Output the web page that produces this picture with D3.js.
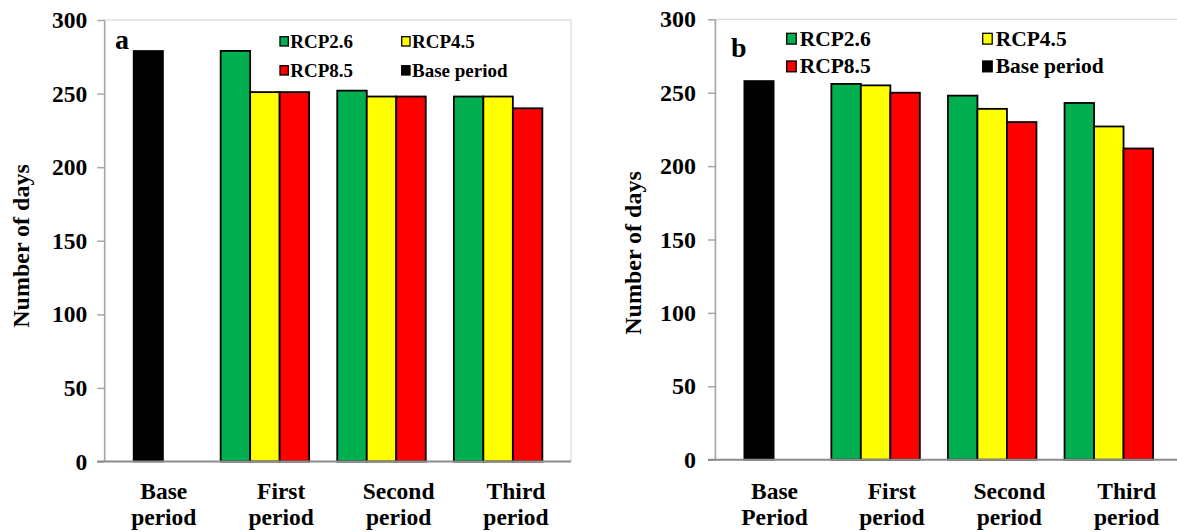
<!DOCTYPE html>
<html>
<head>
<meta charset="utf-8">
<script src="https://cdn.jsdelivr.net/npm/d3@7/dist/d3.min.js"></script>
<style>
  body { margin: 0; background: #fff; }
  svg { display: block; }
</style>
</head>
<body>
<svg id="chart" width="1177" height="532"></svg>
<script>
// ---------------- data ----------------
const categories = ["Base period", "First period", "Second period", "Third period"];
const futureCategories = ["First period", "Second period", "Third period"];
const labelsA = [["Base", "period"], ["First", "period"], ["Second", "period"], ["Third", "period"]];
const labelsB = [["Base", "Period"], ["First", "period"], ["Second", "period"], ["Third", "period"]];
const seriesNames = ["RCP2.6", "RCP4.5", "RCP8.5", "Base period"];
const seriesColors = ["#00b050", "#ffff00", "#ff0000", "#000000"];
const yTicks = [0, 50, 100, 150, 200, 250, 300];

const basePeriodA = 279;
const rcp26A = [279, 252, 248];
const rcp45A = [251, 248, 248];
const rcp85A = [251, 248, 240];

const basePeriodB = 258;
const rcp26B = [256, 248, 243];
const rcp45B = [255, 239, 227];
const rcp85B = [250, 230, 212];

// ---------------- drawing ----------------
const svg = d3.select("#chart");

function txt(sel, size) {
  return sel.style("font-family", '"Liberation Serif"')
    .style("font-weight", "bold")
    .style("font-size", size + "px")
    .style("fill", "#000");
}

function drawPanel(p) {
  const g = svg.append("g");
  const y = d3.scaleLinear().domain([0, 300]).range([p.bottom, p.top]);
  const x = d3.scalePoint().domain(categories)
    .range([p.left + 44, p.left + 44 + 3 * 116.6]);
  const xl = d3.scalePoint().domain(categories)
    .range([p.left + 59.5, p.left + 59.5 + 3 * 117.4]);
  const bw = 29.5;

  // plot border
  g.append("rect")
    .attr("x", p.left).attr("y", p.top)
    .attr("width", p.right - p.left).attr("height", p.bottom - p.top)
    .attr("fill", "none").attr("stroke", "#d9d9d9").attr("stroke-width", 1.2);

  // base period bar
  g.append("rect")
    .attr("x", x(categories[0]) - bw / 2)
    .attr("y", y(p.base))
    .attr("width", bw)
    .attr("height", y(0) - y(p.base))
    .attr("fill", seriesColors[3])
    .attr("stroke", "#000").attr("stroke-width", 1.5);

  // grouped future bars
  const series = [p.r26, p.r45, p.r85];
  series.forEach((vals, si) => {
    g.selectAll(null)
      .data(vals)
      .enter()
      .append("rect")
      .attr("x", (d, i) => x(futureCategories[i]) - 1.5 * bw + si * bw)
      .attr("y", d => y(d))
      .attr("width", bw)
      .attr("height", d => y(0) - y(d))
      .attr("fill", seriesColors[si])
      .attr("stroke", "#000").attr("stroke-width", 1.8);
  });

  // y axis
  const ax = g.append("g")
    .attr("transform", `translate(${p.left},0)`)
    .call(d3.axisLeft(y).tickValues(yTicks).tickSize(7).tickPadding(p.tickPad).tickSizeOuter(0));
  ax.select(".domain").attr("stroke", "#a6a6a6").attr("stroke-width", 1.5);
  ax.selectAll(".tick line").attr("stroke", "#a6a6a6").attr("stroke-width", 1.5);
  txt(ax.selectAll(".tick text"), p.tickFont);

  // bottom axis line
  g.append("line")
    .attr("x1", p.left - 7).attr("x2", p.right)
    .attr("y1", y(0)).attr("y2", y(0))
    .attr("stroke", "#8c8c8c").attr("stroke-width", 2);

  // y title
  txt(g.append("text"), 24)
    .attr("transform", `translate(${p.titleX},${p.titleY}) rotate(-90)`)
    .attr("text-anchor", "middle")
    .text("Number of days");

  // category labels
  categories.forEach((c, i) => {
    const t = txt(g.append("text"), 23.5).attr("text-anchor", "middle");
    p.labels[i].forEach((line, li) => {
      t.append("tspan")
        .attr("x", xl(c))
        .attr("y", 499 + li * 26)
        .text(line);
    });
  });

  // panel letter
  txt(g.append("text"), 28)
    .attr("x", p.letterX).attr("y", p.letterY)
    .text(p.letter);

  // legend
  const L = p.legend;
  seriesNames.forEach((name, i) => {
    const col = (i === 1 || i === 3) ? 1 : 0;
    const row = (i === 0 || i === 1) ? 0 : 1;
    const lx = L.cols[col];
    const top = L.rows[row];
    g.append("rect")
      .attr("x", lx).attr("y", top)
      .attr("width", L.sqw).attr("height", L.sq)
      .attr("fill", seriesColors[i])
      .attr("stroke", "#000").attr("stroke-width", 1.3);
    txt(g.append("text"), L.font)
      .attr("x", lx + L.sqw + L.gap).attr("y", top + L.sq + 1.5)
      .text(name);
  });
}

drawPanel({
  left: 104.3, right: 571, top: 20, bottom: 461.5,
  base: basePeriodA, r26: rcp26A, r45: rcp45A, r85: rcp85A,
  labels: labelsA,
  tickPad: 10, tickFont: 23.5, titleX: 29, titleY: 246,
  letter: "a", letterX: 115, letterY: 49,
  legend: { cols: [280, 401.7], rows: [36.7, 65.7], sq: 9.3, sqw: 8.3, gap: 2, font: 19 }
});

drawPanel({
  left: 715, right: 1182, top: 19.3, bottom: 459.7,
  base: basePeriodB, r26: rcp26B, r45: rcp45B, r85: rcp85B,
  labels: labelsB,
  tickPad: 12, tickFont: 24, titleX: 641, titleY: 253,
  letter: "b", letterX: 731, letterY: 57,
  legend: { cols: [786.7, 982.7], rows: [33.3, 61], sq: 10.8, sqw: 9.5, gap: 3.5, font: 21.5 }
});
</script>
</body>
</html>
